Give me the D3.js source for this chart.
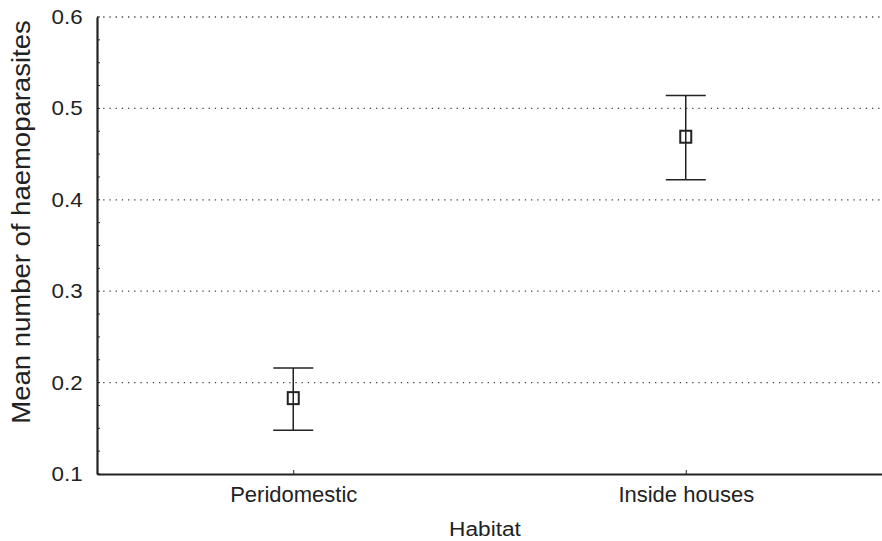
<!DOCTYPE html>
<html><head><meta charset="utf-8">
<script src="https://cdn.jsdelivr.net/npm/d3@7"></script>
<style>body{margin:0;background:#fff}svg{display:block}text{font-family:"Liberation Sans",Arial,sans-serif;fill:#222}</style>
</head><body><svg id="c" width="882" height="541"></svg>
<script>
const categories = ["Peridomestic", "Inside houses"];
const means = [0.183, 0.469];
const upper = [0.216, 0.514];
const lower = [0.148, 0.422];
const yTicks = [0.1, 0.2, 0.3, 0.4, 0.5, 0.6];
const yMinorTicks = d3.range(0.1, 0.6001, 0.025);

(function () {
const svg = d3.select("#c");
const mL = 97, mR = 882, mT = 17, mB = 474;
const x = d3.scalePoint().domain(categories).range([mL, mR]).padding(0.5);
const y = d3.scaleLinear().domain([0.1, 0.6]).range([mB, mT]);

// grid
svg.append("g").selectAll("line").data(yTicks.slice(1)).join("line")
  .attr("x1", mL).attr("x2", mR)
  .attr("y1", d => y(d)).attr("y2", d => y(d))
  .attr("stroke", "#444").attr("stroke-width", 1.3).attr("stroke-dasharray", "1.3,4.9");

// minor ticks
svg.append("g").selectAll("line").data(yMinorTicks).join("line")
  .attr("x1", mL).attr("x2", mL + 3)
  .attr("y1", d => y(d)).attr("y2", d => y(d))
  .attr("stroke", "#222").attr("stroke-width", 1);

// y axis
const ya = svg.append("g").attr("transform", `translate(${mL},0)`)
  .call(d3.axisLeft(y).tickValues(yTicks).tickFormat(d3.format(".1f")).tickSize(0).tickPadding(13));
ya.select(".domain").attr("stroke", "#222").attr("stroke-width", 2.2);
ya.selectAll("text").style("font-size", "20px").attr("fill", "#222")
  .attr("transform", "scale(1.12,1)").attr("x", -12.8);

// x axis
const xa = svg.append("g").attr("transform", `translate(0,${mB})`)
  .call(d3.axisBottom(x).tickSize(-4).tickSizeOuter(0));
xa.select(".domain").attr("stroke", "#222").attr("stroke-width", 2.2);
xa.selectAll(".tick line").attr("stroke", "#222");
xa.selectAll("text").style("font-size", "22px").attr("fill", "#222")
  .attr("y", 28).attr("dy", 0);

// error bars
const g = svg.append("g");
categories.forEach((c, i) => {
  const cx = x(c);
  g.append("line").attr("x1", cx).attr("x2", cx).attr("y1", y(upper[i])).attr("y2", y(lower[i]))
    .attr("stroke", "#222").attr("stroke-width", 1.5);
  [upper[i], lower[i]].forEach(v => {
    g.append("line").attr("x1", cx - 20).attr("x2", cx + 20).attr("y1", y(v)).attr("y2", y(v))
      .attr("stroke", "#222").attr("stroke-width", 1.5);
  });
  g.append("rect").attr("x", cx - 5.5).attr("y", y(means[i]) - 6).attr("width", 11).attr("height", 12)
    .attr("fill", "none").attr("stroke", "#222").attr("stroke-width", 2);
});

// axis titles
svg.append("text").attr("transform", "translate(485,536) scale(1.08,1)")
  .attr("text-anchor", "middle").style("font-size", "21px").text("Habitat");
svg.append("text").attr("transform", `translate(30,222) rotate(-90) scale(1.1,1)`)
  .attr("text-anchor", "middle").style("font-size", "25px").text("Mean number of haemoparasites");
})();
</script></body></html>
